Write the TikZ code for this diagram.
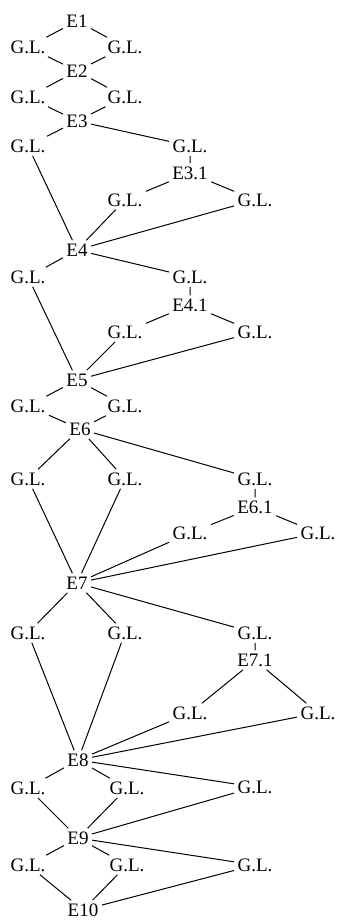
\documentclass[tikz,border=0pt]{standalone}
\usepackage{fontspec}
\setmainfont{Liberation Serif}

\begin{document}
\begin{tikzpicture}[x=1pt,y=-1pt,line width=1pt,
	every node/.style={font=\fontsize{19}{21}\selectfont,inner sep=3pt,text height=12.5pt,text depth=0pt}]
	\useasboundingbox (0,0) rectangle (340,921);
	\node (e1) at (77,21) {E1};
	\node (g1l) at (28,47) {G.L.};
	\node (g1r) at (125,47) {G.L.};
	\node (e2) at (77,71) {E2};
	\node (g2l) at (28,97) {G.L.};
	\node (g2r) at (125,97) {G.L.};
	\node (e3) at (77,121) {E3};
	\node (g3l) at (28,146) {G.L.};
	\node (g3r) at (190,146) {G.L.};
	\node (e31) at (190,173) {E3.1};
	\node (g31l) at (125,200) {G.L.};
	\node (g31r) at (255,200) {G.L.};
	\node (e4) at (77,250) {E4};
	\node (g4l) at (28,277) {G.L.};
	\node (g4r) at (190,277) {G.L.};
	\node (e41) at (190,305) {E4.1};
	\node (g41l) at (125,332) {G.L.};
	\node (g41r) at (255,332) {G.L.};
	\node (e5) at (77,380) {E5};
	\node (g5l) at (28,406) {G.L.};
	\node (g5r) at (125,406) {G.L.};
	\node (e6) at (80,429) {E6};
	\node (g6l) at (28,479) {G.L.};
	\node (g6m) at (125,479) {G.L.};
	\node (g6r) at (255,479) {G.L.};
	\node (e61) at (255,507) {E6.1};
	\node (g61l) at (190,533) {G.L.};
	\node (g61r) at (318,533) {G.L.};
	\node (e7) at (77,583) {E7};
	\node (g7l) at (28,633) {G.L.};
	\node (g7m) at (125,633) {G.L.};
	\node (g7r) at (255,633) {G.L.};
	\node (e71) at (255,660) {E7.1};
	\node (g71l) at (190,713) {G.L.};
	\node (g71r) at (318,713) {G.L.};
	\node (e8) at (78,760) {E8};
	\node (g8l) at (28,788) {G.L.};
	\node (g8m) at (127,788) {G.L.};
	\node (g8r) at (255,787) {G.L.};
	\node (e9) at (78,838) {E9};
	\node (g9l) at (28,865) {G.L.};
	\node (g9m) at (127,865) {G.L.};
	\node (g9r) at (255,865) {G.L.};
	\node (e10) at (83,910) {E10};
	\draw (e1)--(g1l)--(e2)--(g1r)--(e1);
	\draw (e2)--(g2l)--(e3)--(g2r)--(e2);
	\draw (e3)--(g3l)--(e4);
	\draw (e3)--(g3r)--(e31);
	\draw (e31)--(g31l)--(e4)--(g31r)--(e31);
	\draw (e4)--(g4l)--(e5);
	\draw (e4)--(g4r)--(e41);
	\draw (e41)--(g41l)--(e5)--(g41r)--(e41);
	\draw (e5)--(g5l)--(e6)--(g5r)--(e5);
	\draw (e6)--(g6l)--(e7);
	\draw (e6)--(g6m)--(e7);
	\draw (e6)--(g6r)--(e61);
	\draw (e61)--(g61l)--(e7)--(g61r)--(e61);
	\draw (e7)--(g7l)--(e8);
	\draw (e7)--(g7m)--(e8);
	\draw (e7)--(g7r)--(e71);
	\draw (e71)--(g71l)--(e8)--(g71r)--(e71);
	\draw (e8)--(g8l)--(e9);
	\draw (e8)--(g8m)--(e9);
	\draw (e8)--(g8r)--(e9);
	\draw (e9)--(g9l)--(e10);
	\draw (e9)--(g9m)--(e10);
	\draw (e9)--(g9r)--(e10);
\end{tikzpicture}
\end{document}
